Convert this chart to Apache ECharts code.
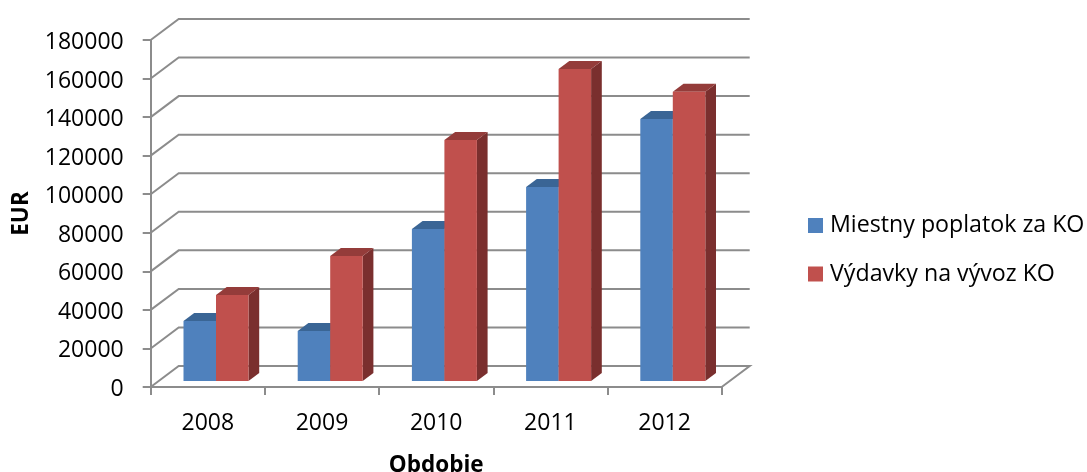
<!DOCTYPE html>
<html>
<head>
<meta charset="utf-8">
<script src="https://cdn.jsdelivr.net/npm/echarts@6/dist/echarts.min.js"></script>
<style>html,body{margin:0;padding:0;background:#fff}#c{width:1087px;height:472px}</style>
</head>
<body>
<div id="c"></div>
<script>
var categories = ['2008', '2009', '2010', '2011', '2012'];
var localFee = [31100, 25900, 78800, 100600, 135900];
var wasteCost = [44600, 64800, 125000, 161800, 150000];
var yTicks = [0, 20000, 40000, 60000, 80000, 100000, 120000, 140000, 160000, 180000];
var seriesNames = ['Miestny poplatok za KO', 'Výdavky na vývoz KO'];
var axisTitleX = 'Obdobie';
var axisTitleY = 'EUR';

var FONT = '"Open Sans", sans-serif';
var GRID_COLOR = '#8c8c8c';
var WALL_DX = 28, WALL_DY = -21;
var BAR_DX = 10.7, BAR_DY = -8;
var BAR_SHIFT = 8.2, BAR_W = 32.5, BAR_LIFT = -6;

function wallItem(params, api) {
  var cs = params.coordSys;
  var y = api.coord([0, api.value(0)])[1];
  var x0 = cs.x, x1 = cs.x + cs.width;
  var pts = [[x0, y], [x0 + WALL_DX, y + WALL_DY], [x1 + WALL_DX, y + WALL_DY]];
  if (api.value(0) === 0) pts.push([x1, y]);
  return {
    type: 'polyline',
    shape: { points: pts },
    style: { fill: null, stroke: GRID_COLOR, lineWidth: 2 }
  };
}

function barRenderer(idx, front, top, side) {
  return function (params, api) {
    var p = api.coord([api.value(0), api.value(1)]);
    var base = api.coord([api.value(0), 0]);
    var xl = p[0] + BAR_SHIFT + (idx - 1) * BAR_W;
    var xr = xl + BAR_W;
    var yt = p[1] + BAR_LIFT;
    var yb = base[1] + BAR_LIFT;
    return {
      type: 'group',
      children: [
        { type: 'polygon', shape: { points: [[xr, yt], [xr + BAR_DX, yt + BAR_DY], [xr + BAR_DX, yb + BAR_DY], [xr, yb]] }, style: { fill: side } },
        { type: 'polygon', shape: { points: [[xl, yt], [xl + BAR_DX, yt + BAR_DY], [xr + BAR_DX, yt + BAR_DY], [xr, yt]] }, style: { fill: top } },
        { type: 'rect', shape: { x: xl, y: yt, width: BAR_W, height: yb - yt }, style: { fill: front } }
      ]
    };
  };
}

function pairs(values) {
  return values.map(function (v, i) { return [categories[i], v]; });
}

var chart = echarts.init(document.getElementById('c'), null, { renderer: 'canvas' });
chart.setOption({
  animation: false,
  backgroundColor: '#fff',
  legend: {
    data: seriesNames,
    orient: 'vertical',
    left: 803,
    top: 209,
    itemWidth: 15,
    itemHeight: 15,
    itemGap: 25.5,
    icon: 'rect',
    textStyle: { fontFamily: FONT, fontSize: 23.2, color: '#000', padding: [0, 0, 0, 2] }
  },
  grid: { left: 150.7, top: 40, width: 571, height: 347, containLabel: false, outerBoundsMode: 'none' },
  xAxis: {
    type: 'category',
    data: categories,
    name: axisTitleX,
    nameLocation: 'middle',
    nameGap: 79,
    nameTextStyle: { fontFamily: FONT, fontSize: 22.5, fontWeight: 'bold', color: '#000', verticalAlign: 'middle' },
    axisLine: { show: true, lineStyle: { color: GRID_COLOR, width: 2 } },
    axisTick: { show: true, length: 8, lineStyle: { color: GRID_COLOR, width: 2 } },
    axisLabel: { margin: 25, fontFamily: FONT, fontSize: 23, color: '#000' },
    splitLine: { show: false }
  },
  yAxis: {
    type: 'value',
    min: 0,
    max: 180000,
    interval: 20000,
    name: axisTitleY,
    nameLocation: 'middle',
    nameGap: 129,
    nameRotate: 90,
    nameTextStyle: { fontFamily: FONT, fontSize: 22.5, fontWeight: 'bold', color: '#000', verticalAlign: 'middle' },
    axisLine: { show: true, lineStyle: { color: GRID_COLOR, width: 2 } },
    axisTick: { show: true, length: 8, lineStyle: { color: GRID_COLOR, width: 2 } },
    axisLabel: {
      margin: 27,
      fontFamily: FONT,
      fontSize: 23,
      color: '#000',
      formatter: function (v) { return '{t|' + v + '}'; },
      rich: { t: { fontFamily: FONT, fontSize: 23, color: '#000', padding: [5, 0, 0, 0] } }
    },
    splitLine: { show: false }
  },
  series: [
    {
      type: 'custom',
      name: 'walls',
      silent: true,
      z: 1,
      encode: { y: 0 },
      data: yTicks.map(function (v) { return [v]; }),
      renderItem: wallItem
    },
    {
      type: 'custom',
      name: seriesNames[0],
      z: 2,
      itemStyle: { color: '#4F81BD' },
      encode: { x: 0, y: 1 },
      data: pairs(localFee),
      renderItem: barRenderer(0, '#4F81BD', '#3A6595', '#2F5480')
    },
    {
      type: 'custom',
      name: seriesNames[1],
      z: 3,
      itemStyle: { color: '#C0504D' },
      encode: { x: 0, y: 1 },
      data: pairs(wasteCost),
      renderItem: barRenderer(1, '#C0504D', '#943C3A', '#7A2F2E')
    }
  ]
});
</script>
</body>
</html>
